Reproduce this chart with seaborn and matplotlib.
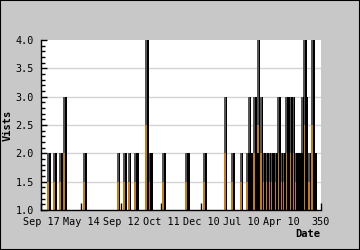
import matplotlib
matplotlib.use("Agg")
import matplotlib.pyplot as plt
from matplotlib.patches import Rectangle
from matplotlib.ticker import MultipleLocator
import pandas as pd
import seaborn as sns

# ---- data ----
positions = [11, 19, 26, 31, 56, 98, 106, 112, 120, 122, 134, 137, 139, 155,
             183, 185, 206, 232, 241, 252, 260, 262, 264, 269, 271, 273, 277,
             280, 284, 287, 290, 292, 295, 299, 302, 305, 308, 310, 314, 317,
             320, 322, 324, 326, 328, 331, 333, 337, 341, 344]
visits = [2, 2, 2, 3, 2, 2, 2, 2, 2, 2, 4, 2, 2, 2,
          2, 2, 2, 3, 2, 2, 2, 3, 2, 3, 2, 4, 3,
          2, 2, 2, 2, 2, 2, 3, 2, 2, 3, 3, 3, 3,
          2, 2, 2, 2, 3, 4, 3, 2, 4, 2]
tick_values = [0, 50, 100, 150, 200, 250, 300, 350]
tick_labels = ["Sep 17", "May 14", "Sep 12", "Oct 11", "Dec 10", "Jul 10", "Apr 10", "350"]

df = pd.DataFrame({"x": positions, "v": visits})
df["mid"] = 1 + (df["v"] - 1) * 0.5
shadow = df.assign(x=df["x"] - 1.2)

sns.set_theme(style="white")
plt.rcParams["font.family"] = ["DejaVu Sans Mono", "DejaVu Sans"]

fig = plt.figure(figsize=(3.6, 2.5), dpi=100, facecolor="#c8c8c8")
ax = fig.add_axes([41 / 360, 40 / 250, 280 / 360, 170 / 250])
ax.set_facecolor("white")

# min spacing between positions is 2 units -> width factor scales from that
sns.barplot(data=shadow, x="x", y="v", native_scale=True, width=2.2,
            color="#555555", saturation=1, errorbar=None, linewidth=0, ax=ax)
sns.barplot(data=shadow, x="x", y="mid", native_scale=True, width=2.2,
            color="#c47e10", saturation=1, errorbar=None, linewidth=0, ax=ax)
sns.barplot(data=df, x="x", y="v", native_scale=True, width=1.0,
            color="black", saturation=1, errorbar=None, linewidth=0, ax=ax)

for y in [1.5, 2.0, 2.5, 3.0, 3.5]:
    ax.axhline(y, color="#d4d4d4", linewidth=1, zorder=0.5)

ax.set_xlim(0, 350)
ax.set_ylim(1.0, 4.0)
ax.set_xticks(tick_values)
ax.set_xticklabels(tick_labels)
yt = [1.0, 1.5, 2.0, 2.5, 3.0, 3.5, 4.0]
ax.set_yticks(yt)
ax.set_yticklabels([f"{v:.1f}" for v in yt])
ax.yaxis.set_minor_locator(MultipleLocator(0.1))
ax.set_ylim(1.0, 4.0)

ax.tick_params(axis="y", which="major", direction="in", length=4, width=1,
               color="black", labelsize=7.3, pad=5, left=True)
ax.tick_params(axis="y", which="minor", direction="in", length=3, width=1,
               color="black", left=True)
ax.tick_params(axis="x", which="major", direction="in", length=5, width=1,
               color="black", labelsize=7.3, pad=5, bottom=True)
for lab in ax.get_xticklabels() + ax.get_yticklabels():
    lab.set_color("black")

for s in ["top", "right"]:
    ax.spines[s].set_visible(False)
for s in ["left", "bottom"]:
    ax.spines[s].set_color("black")
    ax.spines[s].set_linewidth(1)
    ax.spines[s].set_zorder(5)

ax.set_xlabel("")
ax.set_ylabel("")
fig.text(8 / 360, 1 - 125 / 250, "Vists", rotation=90, ha="center", va="center",
         fontsize=7.5, fontweight="bold", color="black")
fig.text(320 / 360, 1 - 234 / 250, "Date", ha="right", va="center",
         fontsize=7.5, fontweight="bold", color="black")

fig.patches.append(Rectangle((0, 0), 1, 1, transform=fig.transFigure, fill=False,
                             edgecolor="black", linewidth=1.5))

fig.savefig("out.png", dpi=100, facecolor=fig.get_facecolor())
